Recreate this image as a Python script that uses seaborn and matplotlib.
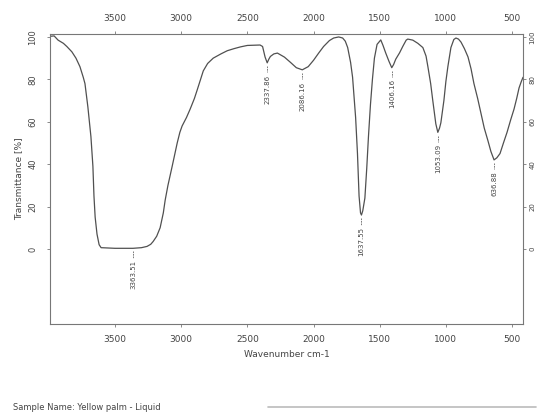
import matplotlib
matplotlib.use("Agg")
import matplotlib.pyplot as plt
import seaborn as sns
import pandas as pd
from matplotlib.lines import Line2D

# ---- data ----
wavenumber = [3991, 3960, 3930, 3890, 3864, 3826, 3795, 3765, 3740, 3727, 3705, 3690,
              3682, 3667, 3659, 3650, 3636, 3620, 3605, 3500, 3364, 3300, 3258, 3230,
              3212, 3185, 3159, 3135, 3121, 3100, 3068, 3030, 3010, 2993, 2960, 2932,
              2900, 2879, 2833, 2800, 2758, 2700, 2652, 2600, 2553, 2500, 2404, 2385,
              2366, 2350, 2338, 2326, 2300, 2273, 2220, 2174, 2130, 2085, 2040, 2000,
              1960, 1924, 1880, 1848, 1810, 1780, 1760, 1742, 1720, 1705, 1682, 1668,
              1656, 1645, 1638, 1628, 1612, 1598, 1585, 1570, 1555, 1540, 1520, 1492,
              1475, 1455, 1430, 1409, 1395, 1379, 1350, 1326, 1300, 1288, 1250, 1212,
              1174, 1150, 1136, 1115, 1099, 1076, 1061, 1048, 1038, 1015, 1000, 985,
              962, 940, 924, 905, 886, 860, 833, 810, 788, 760, 735, 710, 682, 660,
              636, 615, 591, 565, 538, 510, 485, 465, 447, 430, 417]
transmittance = [100.3, 100.5, 98.5, 97, 95.5, 93, 90, 86, 81, 78, 67, 58,
                 53, 39, 25, 15, 7, 2, 0.6, 0.3, 0.3, 0.6, 1.2, 2.2,
                 3.5, 6, 10, 17, 23, 30, 39, 50, 55, 58, 62, 66,
                 71, 75, 84, 87.5, 90, 92, 93.5, 94.5, 95.3, 96, 96.2, 95.5,
                 90.5, 87.8, 89.5, 90.8, 92, 92.4, 90.5, 88, 85.5, 84.5, 86, 89,
                 92.5, 95.5, 98.3, 99.5, 100, 99.5, 98, 95, 88, 81, 62, 45,
                 25, 17, 16, 18, 24, 38, 53, 68, 80, 90, 96.5, 98.6,
                 96, 92.5, 88.5, 85.5, 87, 89.5, 92.5, 95.5, 98.5, 99, 98.5, 97,
                 95, 91, 86, 78, 70, 59, 55, 57, 59.5, 70, 79, 86,
                 95, 98.8, 99.5, 99, 97.6, 94.5, 90.6, 85, 78, 71, 64, 57, 51, 46,
                 42, 43, 45, 50, 55, 61, 66, 71, 76, 79, 81]

peak_wn = [3363.51, 2337.86, 2086.16, 1637.55, 1406.16, 1053.09, 636.88]
peak_pos = [3364, 2350, 2085, 1638, 1409, 1061, 636]
peak_T = [0.3, 87.8, 84.5, 16, 85.5, 55, 42]

x_ticks = [3500, 3000, 2500, 2000, 1500, 1000, 500]
y_ticks = [0, 20, 40, 60, 80, 100]

sample_text = "Sample Name: Yellow palm - Liquid"

# ---- plot ----
sns.set_style("ticks")
plt.rcParams['font.family'] = ['DejaVu Sans']

fig = plt.figure(figsize=(5.39, 4.15), dpi=100)
ax = fig.add_axes([0.0928, 0.2193, 0.8776, 0.6988])

df = pd.DataFrame({"wn": wavenumber, "T": transmittance})
sns.lineplot(data=df, x="wn", y="T", sort=False, ax=ax, color="#505050", linewidth=0.9)

ax.set_xlim(3991, 417)
ax.set_ylim(-35.4, 101.4)
ax.set_xticks(x_ticks)
ax.set_xticklabels([str(v) for v in x_ticks])
ax.set_yticks(y_ticks)
ax.set_yticklabels([str(v) for v in y_ticks])

grey = "#444444"
for s in ax.spines.values():
    s.set_color("#777777")
    s.set_linewidth(0.8)
    s.set_visible(True)

ax.tick_params(axis='x', which='both', top=True, labeltop=True, bottom=True, labelbottom=True,
               length=2.5, width=0.6, color="#777777", labelsize=6.5, labelcolor=grey, pad=5.5)
ax.tick_params(axis='y', which='both', left=True, right=True, labelleft=True, labelright=True,
               length=2.5, width=0.6, color="#777777", labelsize=6, labelcolor=grey,
               labelrotation=90)
ax.tick_params(axis='y', which='both', pad=6.5)
for t in ax.yaxis.get_major_ticks():
    t.set_pad(6.5)
    t.label2.set_fontsize(5)
    t.label2.set_va('center')
    t.label1.set_va('center')
# right labels sit tight against the spine so they stay on the canvas
for t in ax.yaxis.get_major_ticks():
    t.label2.set_transform(t.label2.get_transform() + matplotlib.transforms.ScaledTranslation(-4.5 / 72, 0, fig.dpi_scale_trans))

ax.set_xlabel("Wavenumber cm-1", fontsize=6.5, color=grey, labelpad=4)
ax.set_ylabel("Transmittance [%]", fontsize=6.5, color=grey, labelpad=4)

for wn, pos, t in zip(peak_wn, peak_pos, peak_T):
    ax.plot([pos, pos], [t - 1.5, t - 4.5], color="#666666", linewidth=0.6, linestyle=(0, (2, 1)))
    ax.text(pos, t - 5.5, f"{wn:.2f}", rotation=90, ha='center', va='top',
            fontsize=5, color=grey)

fig.text(0.024, 0.017, sample_text, fontsize=6, color=grey, ha='left', va='center')
fig.add_artist(Line2D([0.497, 0.995], [0.019, 0.019], color="#bbbbbb", linewidth=1.2,
                      transform=fig.transFigure))

fig.savefig("out.png", dpi=100)
